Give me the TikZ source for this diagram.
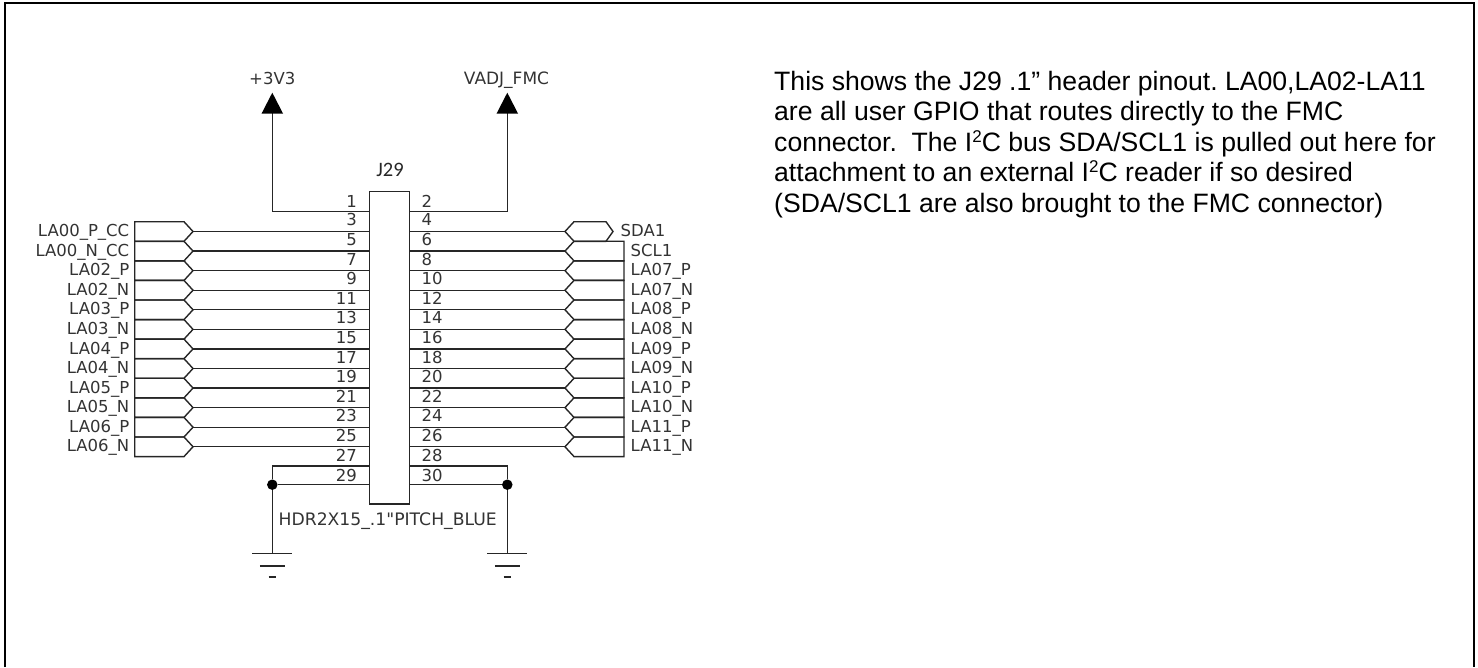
\documentclass[tikz,border=0pt]{standalone}
\usepackage{fontspec}
\setmainfont{Liberation Sans}
\newfontfamily\schfont{DejaVu Sans}
\newfontfamily\calfont{Carlito}
\newcommand{\supertwo}{\raisebox{8.5pt}{\fontsize{17}{17}\selectfont 2}}
\begin{document}
\frenchspacing
\begin{tikzpicture}[x=1pt,y=-1pt,
  wire/.style={line width=1.4pt,black!85,line join=miter},
  sig/.style={inner sep=0pt,anchor=base east,font=\schfont\fontsize{16.5}{17}\selectfont,text=black!80},
  sigr/.style={inner sep=0pt,anchor=base west,font=\schfont\fontsize{16.5}{17}\selectfont,text=black!80},
  pinl/.style={inner sep=0pt,anchor=base east,font=\schfont\fontsize{16.5}{17}\selectfont,text=black!80},
  pinr/.style={inner sep=0pt,anchor=base west,font=\schfont\fontsize{16.5}{17}\selectfont,text=black!80},
  para/.style={inner sep=0pt,anchor=base west,font=\fontsize{26.6}{30}\selectfont,text=black},
  dotn/.style={circle,fill=black,inner sep=0pt,minimum size=10.5pt},
  pwr/.style={fill=black,draw=none}]
\useasboundingbox (0,0) rectangle (1478,667);
\draw[line width=2pt] (5,667) -- (5,3) -- (1474,3) -- (1474,667);
% header
\node[draw=black!85,line width=1.4pt,minimum width=40pt,minimum height=312.5pt,inner sep=0pt] (hdr) at (389.2,347.8) {};
\node[inner sep=0pt,font=\calfont\fontsize{20.5}{21}\selectfont,text=black!85] (ref) at (390,170) {J29};
\node[inner sep=0pt,anchor=base,font=\schfont\fontsize{17.2}{18}\selectfont,text=black!80] (val) at (387.7,525) {HDR2X15\_.1"PITCH\_BLUE};
% pin 1 / 2 power
\coordinate (p1) at (369,211.7);
\coordinate (p2) at (409.3,211.7);
\coordinate (pa) at (272.3,113);
\coordinate (pb) at (507.3,113);
\draw[wire] (p1) -| (pa);
\draw[wire] (p2) -| (pb);
\fill[pwr] (272.3,92.7) -- (283,113.5) -- (261.6,113.5) -- cycle;
\fill[pwr] (507.3,92.7) -- (518,113.5) -- (496.6,113.5) -- cycle;
\node[inner sep=0pt,anchor=base,font=\schfont\fontsize{16.5}{17}\selectfont,text=black!80] (v33) at (272.3,84) {+3V3};
\node[inner sep=0pt,anchor=base,font=\schfont\fontsize{17}{17}\selectfont,text=black!80] (vadj) at (506.5,84) {VADJ\_FMC};
\node[pinl] (n1) at (357,207.7) {1};
\node[pinr] (n2) at (421.5,207.7) {2};
\node[pinl] (n3) at (357,225.7) {3};
\node[pinr] (n4) at (421.5,225.7) {4};
% signals
\foreach \i/\ll/\rl/\pl/\pr in {0/LA00\_P\_CC/SDA1/5/6,1/LA00\_N\_CC/SCL1/7/8,2/LA02\_P/LA07\_P/9/10,3/LA02\_N/LA07\_N/11/12,4/LA03\_P/LA08\_P/13/14,5/LA03\_N/LA08\_N/15/16,6/LA04\_P/LA09\_P/17/18,7/LA04\_N/LA09\_N/19/20,8/LA05\_P/LA10\_P/21/22,9/LA05\_N/LA10\_N/23/24,10/LA06\_P/LA11\_P/25/26,11/LA06\_N/LA11\_N/27/28}{
  \pgfmathsetmacro{\yy}{231.5+19.57*\i}
  \pgfmathsetmacro{\yt}{\yy-9.8}
  \pgfmathsetmacro{\yb}{\yy+9.8}
  \pgfmathsetmacro{\yn}{\yy+14.2}
  \pgfmathsetmacro{\ys}{\yy+5.2}
  % left hexagon connector
  \draw[wire] (184,\yt) -- (134.7,\yt) -- (134.7,\yb) -- (184,\yb) -- (193,\yy) -- cycle;
  \coordinate (L\i) at (193,\yy);
  \coordinate (PL\i) at (369,\yy);
  \draw[wire] (L\i) -- (PL\i);
  \node[sig] (ln\i) at (129.5,\ys) {\ll};
  % right
  \coordinate (R\i) at (565,\yy);
  \coordinate (PR\i) at (409.3,\yy);
  \draw[wire] (PR\i) -- (R\i);
  \ifnum\i=0
    \draw[wire] (574,\yt) -- (606,\yt) -- (613,\yy) -- (606,\yb) -- (574,\yb) -- (565,\yy) -- cycle;
    \node[sigr] (rn\i) at (620.5,\ys) {\rl};
  \else
    \draw[wire] (574,\yt) -- (624,\yt) -- (624,\yb) -- (574,\yb) -- (565,\yy) -- cycle;
    \node[sigr] (rn\i) at (630.5,\ys) {\rl};
  \fi
  \ifnum\i<11
    \node[pinl] (pnl\i) at (357,\yn) {\pl};
    \node[pinr] (pnr\i) at (421.5,\yn) {\pr};
  \else
    \node[pinl] (pnl\i) at (357,461.7) {\pl};
    \node[pinr] (pnr\i) at (421.5,461.7) {\pr};
  \fi
}
% ground
\coordinate (p27) at (369,466);
\coordinate (p28) at (409.3,466);
\coordinate (p29) at (369,484.7);
\coordinate (p30) at (409.3,484.7);
\coordinate (gl) at (272.3,553.3);
\coordinate (gr) at (507.3,553.3);
\node[dotn] (dl) at (272.3,484.7) {};
\node[dotn] (dr) at (507.3,484.7) {};
\draw[wire] (p27) -| (dl);
\draw[wire] (p28) -| (dr);
\draw[wire] (p29) -- (dl);
\draw[wire] (p30) -- (dr);
\draw[wire] (dl) -- (gl);
\draw[wire] (dr) -- (gr);
\node[pinl] (n29) at (357,481.3) {29};
\node[pinr] (n30) at (421.5,481.3) {30};
\foreach \c in {272.3,507.3}{
  \draw[wire] (\c-20,553.3) -- (\c+20,553.3);
  \draw[wire] (\c-12.5,566) -- (\c+12.5,566);
  \draw[wire] (\c-3.7,577) -- (\c+3.7,577);
}
% text
\node[para] (t1) at (774,90) {This shows the J29 .1” header pinout. LA00,LA02-LA11};
\node[para] (t2) at (774,120) {are all user GPIO that routes directly to the FMC};
\node[para] (t3) at (774,151) {connector.\ \ The I\supertwo C bus SDA/SCL1 is pulled out here for};
\node[para] (t4) at (774,181) {attachment to an external I\supertwo C reader if so desired};
\node[para] (t5) at (774,212) {(SDA/SCL1 are also brought to the FMC connector)};
\end{tikzpicture}
\end{document}
